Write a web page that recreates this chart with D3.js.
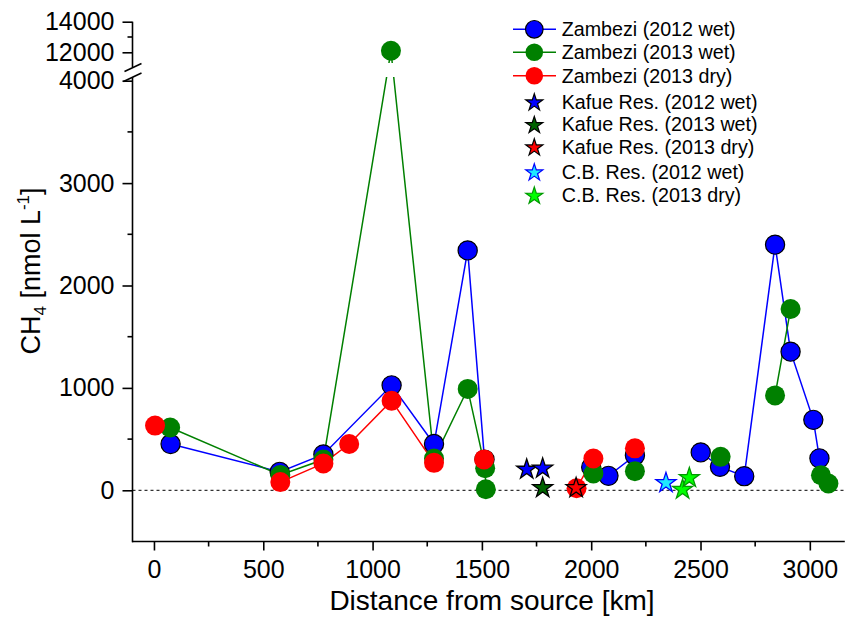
<!DOCTYPE html>
<html>
<head>
<meta charset="utf-8">
<script src="https://cdn.jsdelivr.net/npm/d3@7"></script>
<style>
  html, body { margin: 0; padding: 0; background: #fff; }
  svg { display: block; font-family: Arial, "Liberation Sans", sans-serif; }
</style>
</head>
<body>
<svg id="chart" width="850" height="617"></svg>
<script>
// Distance from source [km] and CH4 [nmol/L]; null breaks the connecting line
const blueKm  = [76, 575, 775, 1087, 1281, 1435, 1512, null, 2000, 2079, 2200, null, 2501, 2589, 2700, 2841, 2912, 3016, 3044];
const blueCH4 = [452, 180, 350, 1025, 452, 2343, 300, null, 226, 141, 340, null, 370, 229, 138, 2399, 1354, 688, 312];

const greenKm  = [74, 578, 775, 1084, 1281, 1435, 1515, 1518, null, 2010, null, 2200, null, 2592, null, 2841, 2912, null, 3051, 3085];
const greenCH4 = [613, 150, 300, 12100, 311, 990, 216, 10, null, 164, null, 187, null, 327, null, 927, 1770, null, 147, 66];

const redKm  = [5, null, 578, 775, 893, 1087, 1281, null, 1510, null, 1933, 2010, null, 2200];
const redCH4 = [632, null, 80, 262, 452, 875, 268, null, 302, null, 20, 311, null, 410];

// Reservoir stations (stars)
const kafue12wetKm = [1705, 1778], kafue12wetCH4 = [213, 223];
const kafue13wetKm = [1778],       kafue13wetCH4 = [33];
const kafue13dryKm = [1931],       kafue13dryCH4 = [33];
const cb12wetKm    = [2342],       cb12wetCH4    = [82];
const cb13dryKm    = [2418, 2449], cb13dryCH4    = [17, 131];

const xTicks = [0, 500, 1000, 1500, 2000, 2500, 3000];
const yTicksLow = [0, 1000, 2000, 3000, 4000];
const yTicksHigh = [12000, 14000];

const legendLabels = [
  "Zambezi (2012 wet)", "Zambezi (2013 wet)", "Zambezi (2013 dry)",
  "Kafue Res. (2012 wet)", "Kafue Res. (2013 wet)", "Kafue Res. (2013 dry)",
  "C.B. Res. (2012 wet)", "C.B. Res. (2013 dry)"
];

const svg = d3.select("#chart");

const xAxisY = 541.5, axisX = 132.5;
const x = d3.scaleLinear().domain([-100, 3160]).range([132.1, 844.8]);
const yLow = d3.scaleLinear().domain([-500, 4000]).range([xAxisY, 80.7]);
const yHigh = d3.scaleLinear().domain([12000, 14000]).range([52.3, 21.7]);
const y = v => (v > 4100 ? yHigh(v) : yLow(v));

// zero reference line
svg.append("line")
  .attr("x1", axisX).attr("x2", x(3160))
  .attr("y1", y(0)).attr("y2", y(0))
  .attr("stroke", "#000").attr("stroke-width", 1).attr("stroke-dasharray", "3,3");

// series lines
function pts(km, v) { return km.map((k, i) => (k == null ? null : [k, v[i]])); }
const line = d3.line().defined(d => d != null).x(d => x(d[0])).y(d => y(d[1]));
const series = [
  { km: blueKm, v: blueCH4, color: "#0000ff", stroke: "#000", sw: 1.2, r: 9.6 },
  { km: greenKm, v: greenCH4, color: "#008000", stroke: "none", sw: 0, r: 10 },
  { km: redKm, v: redCH4, color: "#ff0000", stroke: "none", sw: 0, r: 10 }
];
const lineG = svg.append("g");
series.forEach(s => {
  lineG.append("path").datum(pts(s.km, s.v))
    .attr("d", line).attr("fill", "none")
    .attr("stroke", s.color).attr("stroke-width", 1.5);
});
// axis break gap through the lines
lineG.append("rect").attr("x", axisX + 1).attr("y", 63).attr("width", 360).attr("height", 14).attr("fill", "#fff");

// series markers
series.forEach(s => {
  svg.append("g").selectAll("circle")
    .data(pts(s.km, s.v).filter(d => d != null))
    .join("circle")
    .attr("cx", d => x(d[0])).attr("cy", d => y(d[1])).attr("r", s.r)
    .attr("fill", s.color).attr("stroke", s.stroke).attr("stroke-width", s.sw);
});

// reservoir stars
const star = d3.symbol().type(d3.symbolStar).size(125);
const starSets = [
  { km: kafue12wetKm, v: kafue12wetCH4, fill: "#0000ff", stroke: "#000" },
  { km: kafue13wetKm, v: kafue13wetCH4, fill: "#006400", stroke: "#000" },
  { km: kafue13dryKm, v: kafue13dryCH4, fill: "#ff0000", stroke: "#000" },
  { km: cb12wetKm, v: cb12wetCH4, fill: "#1ee8ff", stroke: "#0000ff" },
  { km: cb13dryKm, v: cb13dryCH4, fill: "#00ff00", stroke: "#009900" }
];
starSets.forEach(s => {
  svg.append("g").selectAll("path")
    .data(s.km.map((k, i) => [k, s.v[i]]))
    .join("path")
    .attr("d", star)
    .attr("transform", d => `translate(${x(d[0])},${y(d[1]) + 1})`)
    .attr("fill", s.fill).attr("stroke", s.stroke).attr("stroke-width", 1.3);
});

// x axis
const xAxis = d3.axisBottom(x).tickValues(xTicks).tickSize(9).tickPadding(10).tickFormat(d3.format("d"));
const gx = svg.append("g").attr("transform", `translate(0,${xAxisY})`).call(xAxis);
gx.select(".domain").remove();
gx.append("line").attr("x1", axisX - 0.5).attr("x2", x(3160)).attr("stroke", "#000").attr("stroke-width", 1.6);
gx.selectAll(".tick line").attr("stroke-width", 1.6);
gx.selectAll(".tick text").attr("font-size", 25).attr("fill", "#000").attr("font-family", "Arial, 'Liberation Sans', sans-serif");
gx.selectAll(".minor").data(d3.range(250, 3160, 500)).join("line")
  .attr("x1", d => x(d)).attr("x2", d => x(d)).attr("y1", 0).attr("y2", 5)
  .attr("stroke", "#000").attr("stroke-width", 1.6);

// y axis, lower part
const yAxisLow = d3.axisLeft(yLow).tickValues(yTicksLow).tickSize(10).tickPadding(8).tickFormat(d3.format("d"));
const gyl = svg.append("g").attr("transform", `translate(${axisX},0)`).call(yAxisLow);
gyl.select(".domain").remove();
gyl.append("line").attr("y1", xAxisY + 0.8).attr("y2", 77).attr("stroke", "#000").attr("stroke-width", 1.6);
gyl.selectAll(".minor").data([500, 1500, 2500, 3500]).join("line")
  .attr("x1", -5).attr("x2", 0).attr("y1", d => yLow(d)).attr("y2", d => yLow(d))
  .attr("stroke", "#000").attr("stroke-width", 1.6);

// y axis, upper part
const yAxisHigh = d3.axisLeft(yHigh).tickValues(yTicksHigh).tickSize(10).tickPadding(8).tickFormat(d3.format("d"));
const gyh = svg.append("g").attr("transform", `translate(${axisX},0)`).call(yAxisHigh);
gyh.select(".domain").remove();
gyh.append("line").attr("y1", yHigh(14000)).attr("y2", 67).attr("stroke", "#000").attr("stroke-width", 1.6);
gyh.append("line").attr("x1", -5).attr("x2", 0).attr("y1", yHigh(13000)).attr("y2", yHigh(13000))
  .attr("stroke", "#000").attr("stroke-width", 1.6);

[gyl, gyh].forEach(g => {
  g.selectAll(".tick line").attr("stroke-width", 1.6);
  g.selectAll(".tick text").attr("font-size", 25).attr("fill", "#000").attr("font-family", "Arial, 'Liberation Sans', sans-serif");
});

// break marks
svg.append("line").attr("x1", 124.5).attr("y1", 71.5).attr("x2", 141.5).attr("y2", 63.5).attr("stroke", "#000").attr("stroke-width", 1.6);
svg.append("line").attr("x1", 123.5).attr("y1", 81.5).attr("x2", 141.5).attr("y2", 73).attr("stroke", "#000").attr("stroke-width", 1.6);

// axis titles
svg.append("text").attr("x", 492).attr("y", 610).attr("text-anchor", "middle")
  .attr("font-size", 28).attr("fill", "#000").text("Distance from source [km]");

const yt = svg.append("text").attr("transform", "translate(40,271) rotate(-90)")
  .attr("text-anchor", "middle").attr("font-size", 27).attr("fill", "#000");
yt.append("tspan").text("CH");
yt.append("tspan").attr("font-size", 17).attr("dy", 6).text("4");
yt.append("tspan").attr("dy", -6).text(" [nmol L");
yt.append("tspan").attr("font-size", 17).attr("dy", -11).text("-1");
yt.append("tspan").attr("dy", 11).text("]");

// legend
const legRows = [29.3, 52.3, 75.7, 101.7, 124.3, 146.7, 171.7, 195];
const leg = svg.append("g");
series.forEach((s, i) => {
  leg.append("line").attr("x1", 513).attr("x2", 556).attr("y1", legRows[i]).attr("y2", legRows[i])
    .attr("stroke", s.color).attr("stroke-width", 1.5);
  leg.append("circle").attr("cx", 534.3).attr("cy", legRows[i]).attr("r", 8.8)
    .attr("fill", s.color).attr("stroke", s.stroke).attr("stroke-width", s.sw);
});
const legStar = d3.symbol().type(d3.symbolStar).size(90);
starSets.forEach((s, i) => {
  leg.append("path").attr("d", legStar)
    .attr("transform", `translate(534.3,${legRows[i + 3] + 1})`)
    .attr("fill", s.fill).attr("stroke", s.stroke).attr("stroke-width", 1.2);
});
legendLabels.forEach((t, i) => {
  leg.append("text").attr("x", 561.7).attr("y", legRows[i] + 7)
    .attr("font-size", 19.7).attr("fill", "#000").text(t);
});
</script>
</body>
</html>
